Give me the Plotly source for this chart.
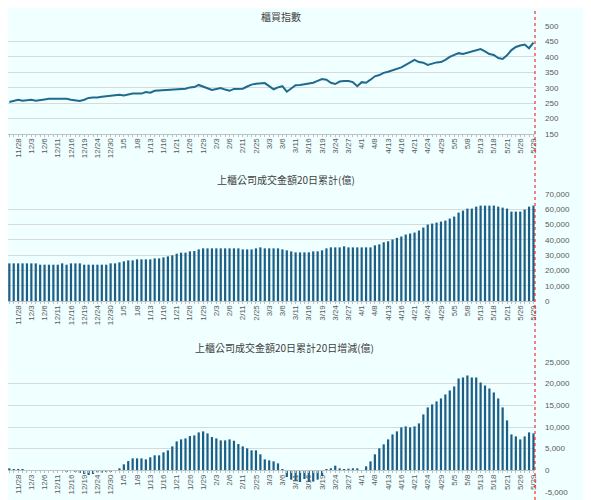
import plotly.graph_objects as go

# tick labels, one every third trading day (first one sits on the 3rd session)
dates = ["11/28", "12/3", "12/6", "12/11", "12/16", "12/19", "12/24", "12/30",
         "1/5", "1/8", "1/13", "1/16", "1/21", "1/26", "1/29", "2/3", "2/6",
         "2/11", "2/25", "3/3", "3/6", "3/11", "3/16", "3/19", "3/24", "3/27",
         "4/1", "4/8", "4/13", "4/16", "4/21", "4/24", "4/29", "5/5", "5/8",
         "5/13", "5/18", "5/21", "5/26", "5/29"]

# 櫃買指數
otc_index = [254, 257, 261, 258, 259, 261, 258, 261, 262, 264,
             264, 264, 264, 264, 261, 260, 257, 261, 267, 268,
             268, 271, 272, 273, 275, 277, 275, 278, 281, 281,
             281, 286, 284, 290, 291, 293, 294, 293, 294, 295,
             297, 301, 302, 309, 304, 298, 293, 296, 299, 294,
             290, 296, 297, 297, 304, 310, 313, 315, 315, 305,
             295, 301, 305, 287, 298, 308, 309, 311, 313, 316,
             322, 328, 326, 316, 312, 320, 322, 322, 318, 305,
             318, 316, 326, 337, 341, 348, 352, 356, 360, 366,
             374, 382, 390, 383, 381, 374, 378, 382, 383, 390,
             400, 407, 412, 409, 413, 419, 422, 425, 418, 409,
             406, 396, 393, 405, 422, 432, 437, 440, 428, 446]

# 上櫃公司成交金額20日累計(億)
turnover_20d = [24620, 24620, 24620, 24620, 24620, 24620, 24620, 23750, 23750, 23750,
                23750, 23750, 24620, 23750, 24620, 24620, 24620, 23750, 23750, 23750,
                23750, 23750, 23750, 24620, 24620, 25280, 25930, 26580, 26580, 27240,
                27240, 27240, 27240, 27890, 27890, 28540, 29200, 29850, 30940, 31600,
                31600, 32470, 32690, 33770, 34430, 34430, 34430, 34430, 34430, 34430,
                34430, 34430, 34430, 33770, 33770, 33770, 34430, 35080, 34430, 34430,
                34430, 34430, 33770, 33120, 32470, 31810, 31810, 31810, 31810, 32470,
                32470, 33120, 34430, 35080, 35080, 35080, 35740, 35080, 35080, 35080,
                35080, 35080, 35080, 36390, 37040, 38420, 39070, 40220, 41300, 42180,
                43480, 44130, 44780, 46090, 48040, 50000, 50650, 51300, 51960, 52610,
                53910, 55220, 57830, 59130, 60440, 60440, 61740, 62390, 62390, 62390,
                62390, 61740, 61090, 60440, 58480, 58480, 58480, 59780, 61740, 62390]

# 上櫃公司成交金額20日累計20日增減(億)
turnover_change = [460, 230, 150, 230, 40, 30, 20, -30, -40, -20,
                   10, -30, -60, -300, -150, -380, -600, -850, -1080, -850,
                   -450, -530, -380, -300, -80, 460, 1380, 2150, 2760, 2760,
                   2760, 2530, 3000, 3460, 3460, 4150, 4600, 5530, 6680, 7140,
                   7370, 7910, 8060, 8750, 8990, 8520, 7680, 7370, 6910, 6910,
                   7140, 6830, 6070, 5530, 5070, 4610, 4610, 3690, 2530, 2300,
                   2070, 1610, 100, -1540, -2150, -2530, -2690, -2000, -2690, -2600,
                   -2150, -1300, 80, 460, 1070, 460, 150, 380, 460, 460,
                   60, 920, 2070, 3690, 5070, 5990, 7140, 8290, 8990, 9910,
                   10140, 9910, 10140, 10830, 12900, 14520, 15210, 15900, 16590, 17510,
                   18430, 19350, 21200, 21430, 21890, 21430, 21430, 20270, 19580, 18890,
                   17970, 16590, 14520, 11520, 8290, 7830, 7140, 7830, 8750, 8520]

index_ticks = [150, 200, 250, 300, 350, 400, 450, 500]
turnover_ticks = [0, 10000, 20000, 30000, 40000, 50000, 60000, 70000]
change_ticks = [-5000, 0, 5000, 10000, 15000, 20000, 25000]

n = len(otc_index)
days = list(range(n))
tick_pos = list(range(2, n, 3))

BG = "#F0FFFF"
BLUE = "#1B5E86"
LINE_BLUE = "#1F6A8E"
GRID = "#D9D9D9"
AXIS = "#BFBFBF"
TEXT = "#595959"
FONT = "Liberation Sans, Arial, sans-serif"
CJK = "Noto Sans CJK TC, sans-serif"

# the page adds an 8px body margin, so the figure is drawn 8px smaller
W, H = 583, 492

fig = go.Figure()
fig.add_trace(go.Scatter(x=days, y=otc_index, mode="lines",
                         line=dict(color=LINE_BLUE, width=2),
                         xaxis="x", yaxis="y", showlegend=False))
fig.add_trace(go.Bar(x=days, y=turnover_20d, width=0.5, marker_color=BLUE,
                     marker_line_width=0, xaxis="x2", yaxis="y2", showlegend=False))
fig.add_trace(go.Bar(x=days, y=turnover_change, width=0.5, marker_color=BLUE,
                     marker_line_width=0, xaxis="x3", yaxis="y3", showlegend=False))

x_range = [-0.3, n - 1 + 0.35]
x_common = dict(range=x_range, tickmode="array", tickvals=tick_pos, ticktext=dates,
                tickangle=-90, tickfont=dict(size=8, color=TEXT, family=FONT),
                showgrid=False, zeroline=False, showline=True, linecolor=AXIS,
                linewidth=1, ticks="", automargin=False, fixedrange=True,
                minor=dict(tickmode="linear", tick0=0, dtick=1, ticks="outside",
                           ticklen=2, tickcolor=AXIS, showgrid=False))
y_common = dict(side="right", showgrid=True, gridcolor=GRID, gridwidth=1,
                zeroline=False, showline=False, ticks="", ticklabelstandoff=9,
                tickfont=dict(size=8, color=TEXT, family=FONT),
                automargin=False, fixedrange=True, tickmode="array")

dom_x = [0, 527 / W]
dom_y1 = [1 - 126 / H, 1 - 18 / H]
dom_y2 = [1 - 293 / H, 1 - 186 / H]
dom_y3 = [1 - 484 / H, 1 - 354 / H]
y3_range = [-5000, 25000]
zero_pos = dom_y3[0] + (0 - y3_range[0]) / (y3_range[1] - y3_range[0]) * (dom_y3[1] - dom_y3[0])

fig.update_layout(
    width=W, height=H,
    margin=dict(l=0, r=0, t=0, b=0),
    paper_bgcolor=BG, plot_bgcolor=BG,
    xaxis=dict(x_common, domain=dom_x, anchor="y"),
    xaxis2=dict(x_common, domain=dom_x, anchor="y2"),
    xaxis3=dict(x_common, domain=dom_x, anchor="free", position=zero_pos),
    yaxis=dict(y_common, domain=dom_y1, anchor="x", range=[150, 500],
               tickvals=index_ticks, ticktext=[str(v) for v in index_ticks]),
    yaxis2=dict(y_common, domain=dom_y2, anchor="x2", range=[0, 70000],
                tickvals=turnover_ticks, ticktext=[f"{v:,}" for v in turnover_ticks]),
    yaxis3=dict(y_common, domain=dom_y3, anchor="x3", range=y3_range,
                tickvals=change_ticks, ticktext=[f"{v:,}" for v in change_ticks]),
)

titles = [("櫃買指數", 273, 0, "top"),
          ("上櫃公司成交金額20日累計(億)", 278, 171, "middle"),
          ("上櫃公司成交金額20日累計20日增減(億)", 276, 339, "middle")]
for text, px, py, anchor in titles:
    fig.add_annotation(text=text, x=px / W, y=1 - py / H, xref="paper", yref="paper",
                       showarrow=False, xanchor="center", yanchor=anchor, borderpad=0,
                       font=dict(size=10, color="#404040", family=CJK))

# red dotted marker on the latest session
fig.add_shape(type="line", xref="x domain", yref="paper", x0=1, x1=1, y0=0, y1=1,
              line=dict(color="#FF0000", width=1, dash="dot"))

fig.write_html("out.html")
